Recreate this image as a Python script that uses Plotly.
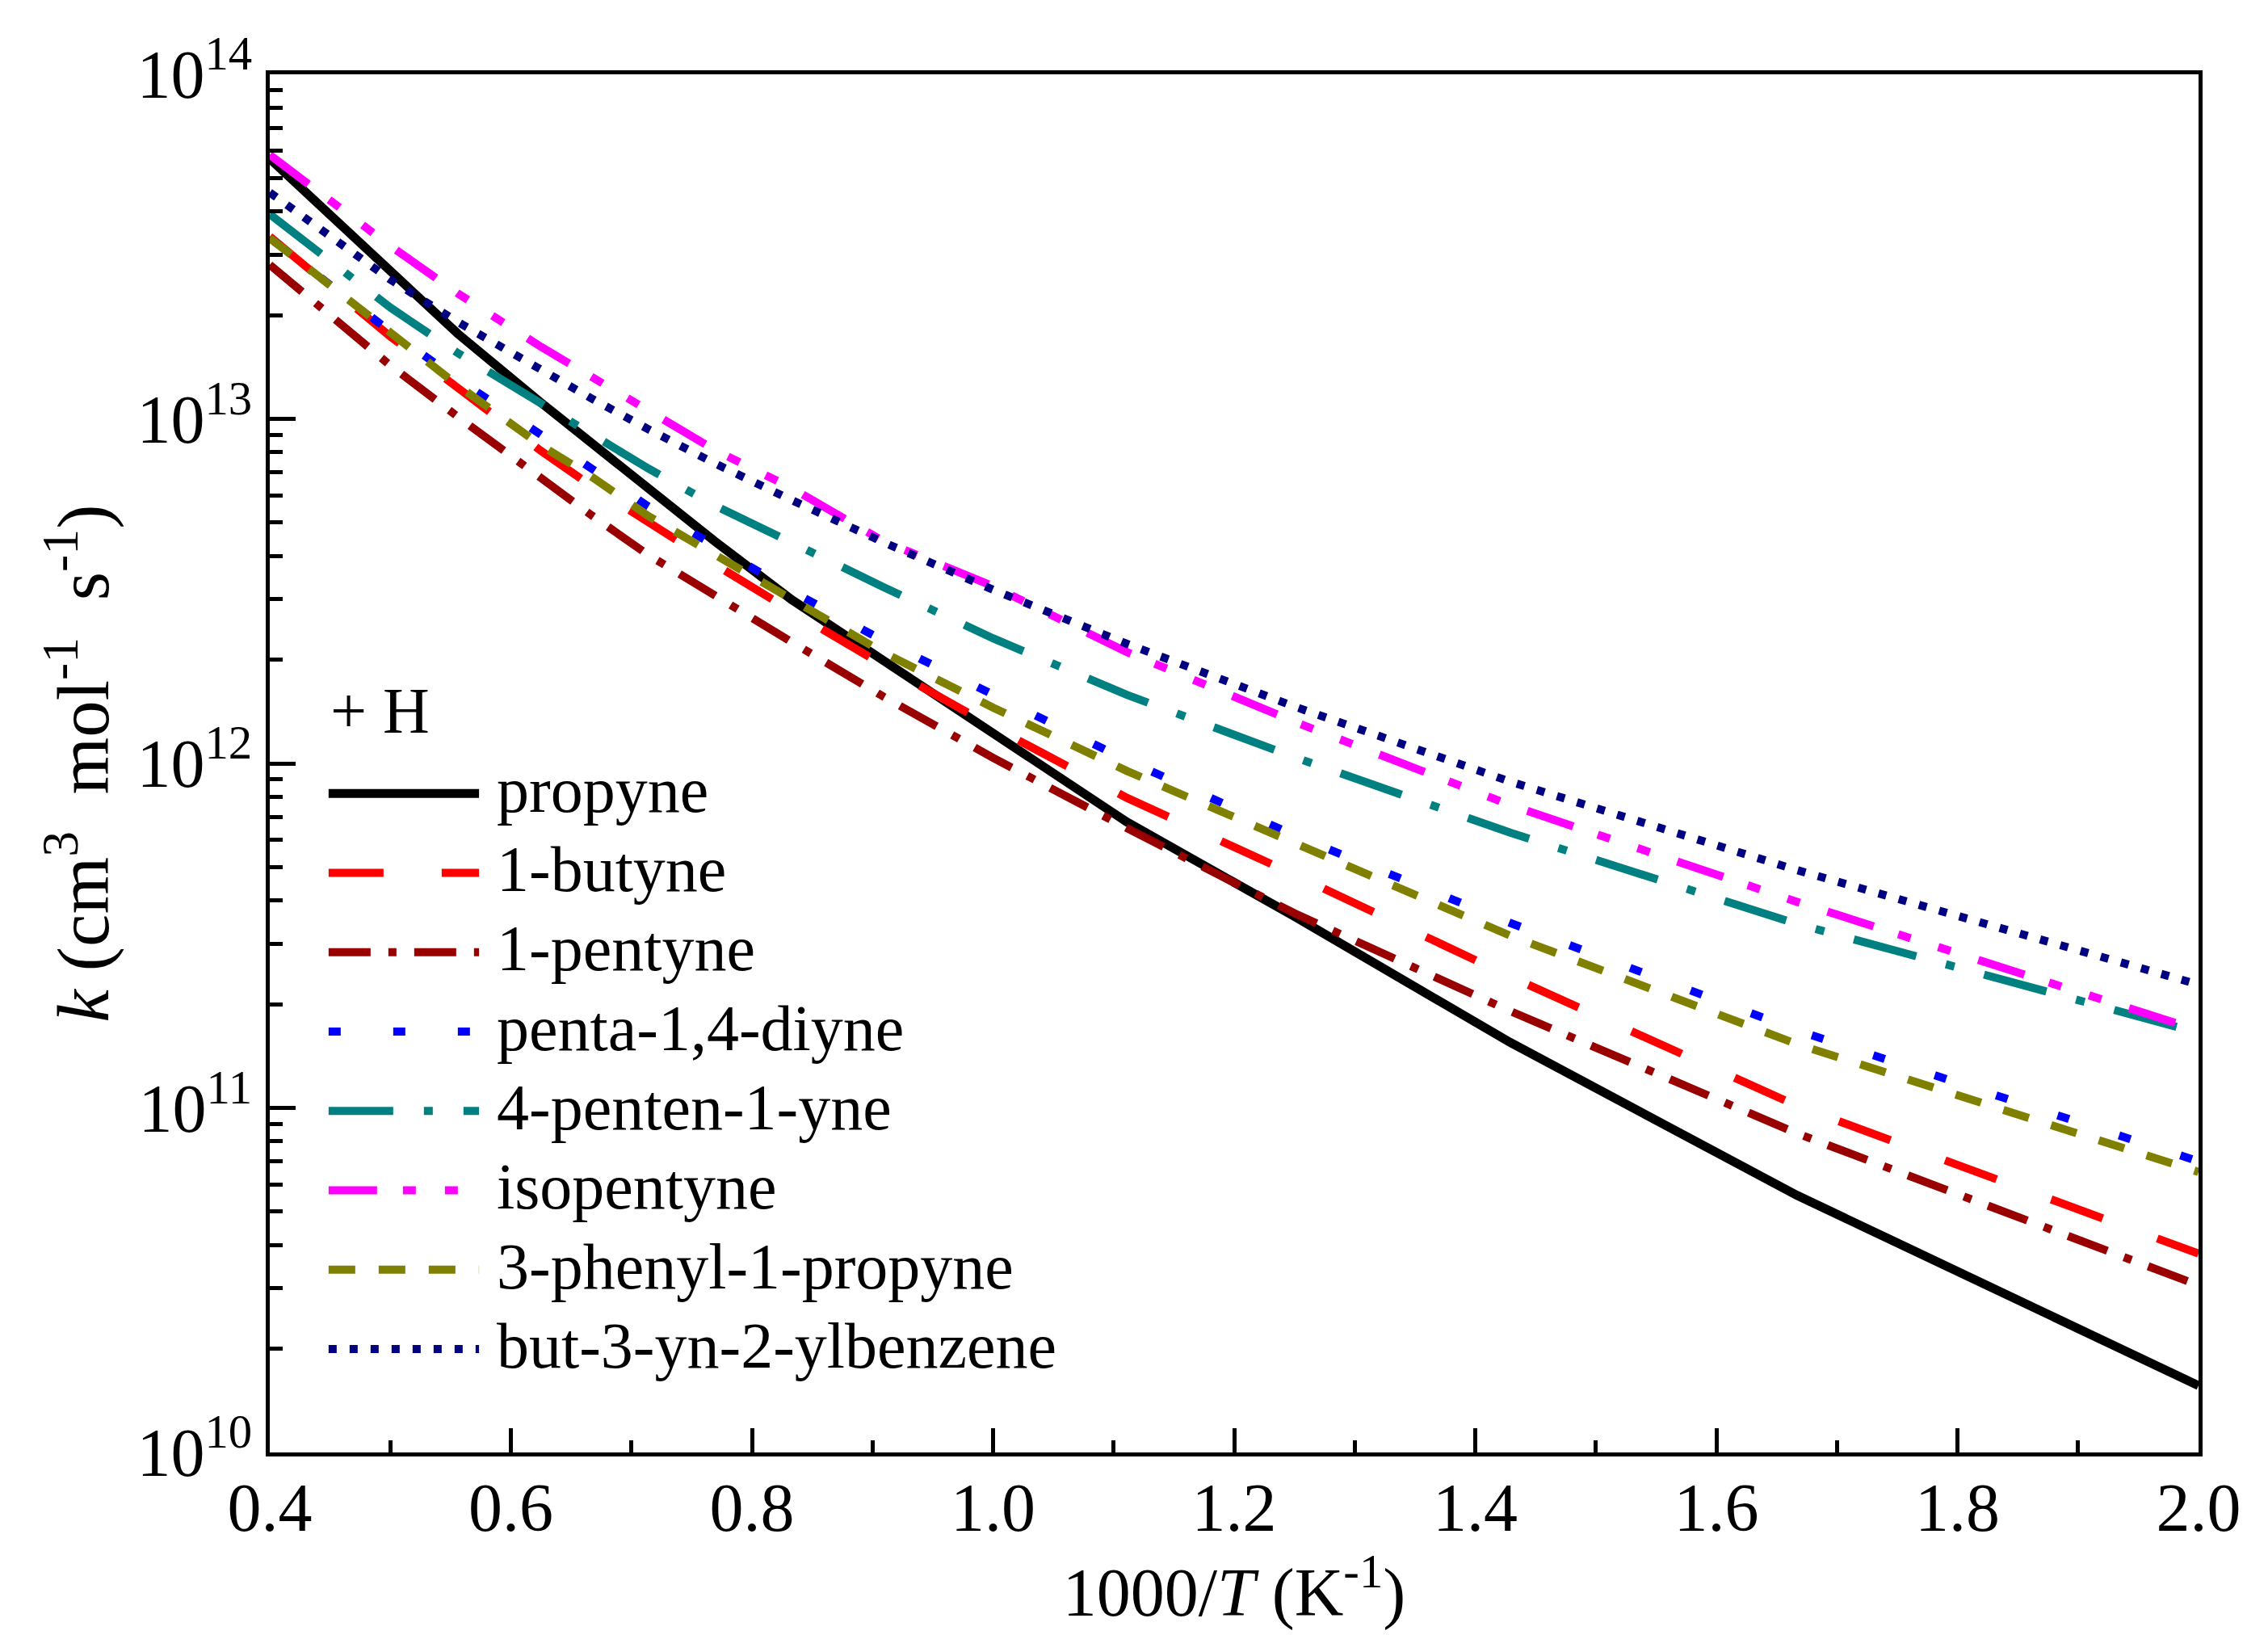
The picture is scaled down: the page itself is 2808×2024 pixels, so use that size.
import plotly.graph_objects as go

# 1000/T grid (K^-1), T = 2500 ... 500 K
inv_T = [0.4, 0.5, 0.556, 0.625, 0.667, 0.714, 0.769, 0.833, 0.909, 1.0, 1.111, 1.25, 1.429, 1.667, 2.0]

# log10 k (cm3 mol-1 s-1)
lk_propyne = [13.755, 13.426, 13.247, 13.047, 12.930, 12.800, 12.645, 12.475, 12.300, 12.084, 11.830, 11.556, 11.190, 10.746, 10.194]
lk_butyne = [13.529, 13.239, 13.090, 12.907, 12.805, 12.700, 12.578, 12.442, 12.285, 12.106, 11.900, 11.677, 11.381, 11.006, 10.577]
lk_pentyne = [13.447, 13.155, 13.006, 12.825, 12.720, 12.605, 12.487, 12.352, 12.194, 12.016, 11.812, 11.565, 11.281, 10.926, 10.485]
lk_pentadiyne = [13.525, 13.253, 13.115, 12.955, 12.860, 12.746, 12.632, 12.500, 12.356, 12.198, 12.009, 11.791, 11.537, 11.225, 10.845]
lk_pentenyne = [13.594, 13.323, 13.191, 13.043, 12.950, 12.856, 12.749, 12.639, 12.512, 12.363, 12.199, 12.018, 11.799, 11.534, 11.218]
lk_isopentyne = [13.766, 13.502, 13.364, 13.209, 13.122, 13.023, 12.910, 12.799, 12.645, 12.514, 12.323, 12.121, 11.879, 11.598, 11.225]
lk_phenylpropyne = [13.525, 13.247, 13.097, 12.923, 12.832, 12.718, 12.606, 12.474, 12.322, 12.162, 11.978, 11.769, 11.500, 11.185, 10.814]
lk_butynylbenzene = [13.657, 13.404, 13.281, 13.139, 13.059, 12.970, 12.871, 12.764, 12.642, 12.504, 12.347, 12.165, 11.947, 11.690, 11.358]

names = ["propyne", "1-butyne", "1-pentyne", "penta-1,4-diyne", "4-penten-1-yne",
         "isopentyne", "3-phenyl-1-propyne", "but-3-yn-2-ylbenzene"]
series = [lk_propyne, lk_butyne, lk_pentyne, lk_pentadiyne, lk_pentenyne,
          lk_isopentyne, lk_phenylpropyne, lk_butynylbenzene]

colors = ["#000000", "#FF0000", "#990000", "#0000FF", "#008080", "#FF00FF", "#808000", "#000080"]
dashes = ["solid", "68px,72px", "52px,22px,10px,22px", "15px,65px", "80px,38px,11px,38px",
          "60px,32px,16px,36px,16px,36px", "33px,29px", "10px,16px"]
widths = [11, 10, 10, 10, 10, 10, 10, 10]

y_ticks = [1e10, 1e11, 1e12, 1e13, 1e14]
y_ticktext = ["10<sup>10</sup>", "10<sup>11</sup>", "10<sup>12</sup>", "10<sup>13</sup>", "10<sup>14</sup>"]
y_minor = [m * 10**e for e in range(10, 14) for m in range(2, 10)]

FONT = "Liberation Serif"

fig = go.Figure()

for k in range(len(names)):
    fig.add_scatter(
        x=inv_T,
        y=[10**v for v in series[k]],
        mode='lines',
        name=names[k],
        showlegend=False,
        line=dict(color=colors[k], width=widths[k], dash=dashes[k]),
    )

# hand-made legend (long line samples like the original)
leg_x0, leg_x1, leg_tx = 0.0305, 0.1085, 0.117
row0, row_h = 0.4807, 0.0576

fig.add_annotation(
    x=leg_x0, y=row0 + row_h, xref='paper', yref='paper',
    text="+ H", showarrow=False, xanchor='left', yanchor='middle',
    font=dict(family=FONT, size=80, color='black')
)
for k in range(len(names)):
    yy = row0 - k * row_h
    fig.add_shape(
        type='line', xref='paper', yref='paper',
        x0=leg_x0, x1=leg_x1, y0=yy - 0.0025, y1=yy - 0.0025,
        line=dict(color=colors[k], width=widths[k], dash=dashes[k])
    )
    fig.add_annotation(
        x=leg_tx, y=yy, xref='paper', yref='paper',
        text=names[k], showarrow=False, xanchor='left', yanchor='middle',
        font=dict(family=FONT, size=80, color='black')
    )

fig.update_layout(
    width=2800,
    height=2016,
    margin=dict(l=326, r=86, t=84, b=226),
    plot_bgcolor='white',
    paper_bgcolor='white',
    showlegend=False,
    font=dict(family=FONT, color='black'),
    xaxis=dict(
        range=[0.4, 2.0],
        tick0=0.4,
        dtick=0.2,
        tickformat='.1f',
        ticks='inside',
        ticklen=30,
        tickwidth=5,
        tickcolor='black',
        ticklabelstandoff=-9,
        showline=True,
        linewidth=5,
        linecolor='black',
        mirror=True,
        showgrid=False,
        zeroline=False,
        tickfont=dict(family=FONT, size=84),
        minor=dict(dtick=0.1, tick0=0.4, ticks='inside', ticklen=15, tickwidth=5,
                   tickcolor='black', showgrid=False),
        title=dict(text="\u00a0\u00a01000/<i>T</i> (K<sup>-1</sup>)", font=dict(family=FONT, size=84), standoff=8),
    ),
    yaxis=dict(
        type='log',
        range=[10, 14],
        tickmode='array',
        tickvals=y_ticks,
        ticktext=y_ticktext,
        ticks='inside',
        ticklen=32,
        tickwidth=5,
        tickcolor='black',
        showline=True,
        linewidth=5,
        linecolor='black',
        mirror=True,
        showgrid=False,
        zeroline=False,
        tickfont=dict(family=FONT, size=84),
        minor=dict(tickvals=y_minor, ticks='inside', ticklen=16, tickwidth=5,
                   tickcolor='black', showgrid=False),
        title=dict(text="\u00a0<i>k</i> (cm<sup>3</sup>\u00a0 mol<sup>-1</sup>\u00a0 s<sup>-1</sup>)",
                   font=dict(family=FONT, size=91), standoff=6),
    ),
)

fig.write_html("out.html")
